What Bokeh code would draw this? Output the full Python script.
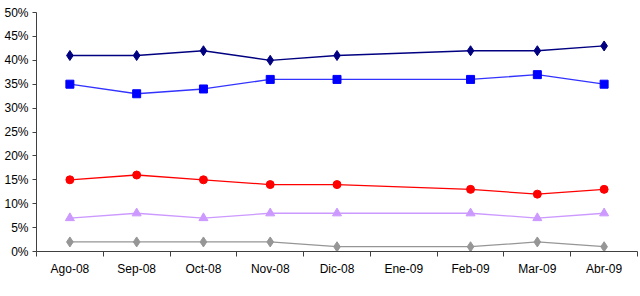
from bokeh.plotting import figure
from bokeh.models import (Range1d, FixedTicker, NumeralTickFormatter, ColumnDataSource)
from bokeh.embed import file_html
from bokeh.resources import INLINE

months = ["Ago-08", "Sep-08", "Oct-08", "Nov-08", "Dic-08", "Ene-09", "Feb-09", "Mar-09", "Abr-09"]
# Ene-09 has no data in any series
serie_navy = [0.41, 0.41, 0.42, 0.40, 0.41, None, 0.42, 0.42, 0.43]
serie_blue = [0.35, 0.33, 0.34, 0.36, 0.36, None, 0.36, 0.37, 0.35]
serie_red = [0.15, 0.16, 0.15, 0.14, 0.14, None, 0.13, 0.12, 0.13]
serie_lilac = [0.07, 0.08, 0.07, 0.08, 0.08, None, 0.08, 0.07, 0.08]
serie_gray = [0.02, 0.02, 0.02, 0.02, 0.01, None, 0.01, 0.02, 0.01]
y_ticks = [0, 0.05, 0.10, 0.15, 0.20, 0.25, 0.30, 0.35, 0.40, 0.45, 0.50]

FONT = "Liberation Sans"
n = len(months)
centers = [i + 0.5 for i in range(n)]          # category centres
edges = list(range(n + 1))                       # category boundaries

p = figure(width=640, height=296, x_range=Range1d(0, n), y_range=Range1d(0, 0.5),
           output_backend="svg", toolbar_location=None,
           min_border_left=36, min_border_right=3, min_border_top=12, min_border_bottom=45)
p.outline_line_color = None
p.grid.visible = False
p.background_fill_color = "white"
p.border_fill_color = "white"

yax = p.yaxis[0]
yax.ticker = FixedTicker(ticks=y_ticks)
yax.formatter = NumeralTickFormatter(format="0%")
yax.major_label_text_font = FONT
yax.major_label_text_font_size = "12px"
yax.major_label_text_color = "#000000"
yax.axis_line_color = "#404040"
yax.major_tick_line_color = "#404040"
yax.major_tick_out = 4
yax.major_tick_in = 0
yax.minor_tick_line_color = None
yax.major_label_standoff = 4

xax = p.xaxis[0]
xax.ticker = FixedTicker(ticks=centers, minor_ticks=edges)
xax.major_label_overrides = {c: m for c, m in zip(centers, months)}
xax.major_label_text_font = FONT
xax.major_label_text_font_size = "12px"
xax.major_label_text_color = "#000000"
xax.major_label_standoff = 5
xax.axis_line_color = "#404040"
xax.major_tick_line_color = None
xax.major_tick_out = 0
xax.major_tick_in = 0
xax.minor_tick_line_color = "#404040"
xax.minor_tick_out = 5
xax.minor_tick_in = 0

def add_series(vals, color, line_color, marker, size):
    xs = [c for c, v in zip(centers, vals) if v is not None]
    ys = [v for v in vals if v is not None]
    src = ColumnDataSource(dict(x=xs, y=ys))
    p.line("x", "y", source=src, line_color=line_color, line_width=1.3)
    p.scatter("x", "y", source=src, marker=marker, size=size,
              fill_color=color, line_color=color)

add_series(serie_navy, "#000080", "#000080", "diamond", 10)
add_series(serie_blue, "#0000FF", "#3333FF", "square", 8)
add_series(serie_red, "#FF0000", "#FF0000", "circle", 8)
add_series(serie_lilac, "#CC99FF", "#CC99FF", "triangle", 9)
add_series(serie_gray, "#969696", "#969696", "diamond", 10)

open("out.html", "w").write(file_html(p, INLINE))
